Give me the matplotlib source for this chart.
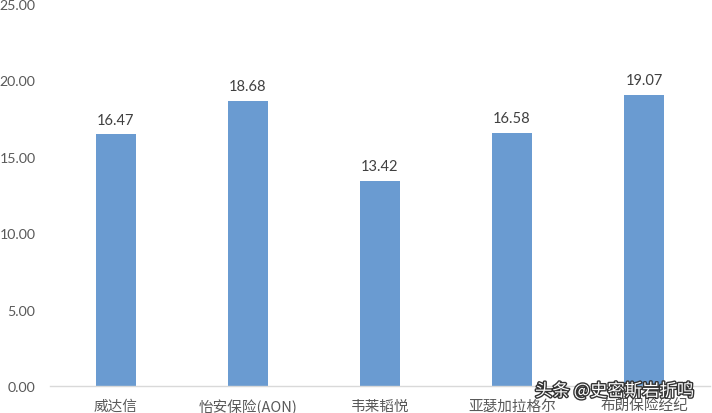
import matplotlib
matplotlib.use("Agg")
import matplotlib.pyplot as plt
import matplotlib.patheffects as pe

categories = ["威达信", "怡安保险(AON)", "韦莱韬悦", "亚瑟加拉格尔", "布朗保险经纪"]
values = [16.47, 18.68, 13.42, 16.58, 19.07]
yticks = [0, 5, 10, 15, 20, 25]

plt.rcParams['font.family'] = ['Noto Sans CJK SC', 'DejaVu Sans']
numfont = ['Lato', 'DejaVu Sans']

fig = plt.figure(figsize=(7.12, 4.14), dpi=100)
ax = fig.add_axes([50/712, 27/414, 660/712, 382/414])

x = list(range(len(categories)))
bars = ax.bar(x, values, width=0.31, color="#6A9BD1", zorder=2)
for xi, v in zip(x, values):
    ax.text(xi, v + 0.5, f"{v:.2f}", ha="center", va="bottom", fontsize=10.5,
            color="#404040", family=numfont)

ax.set_xlim(-0.5, len(categories) - 0.5)
ax.set_ylim(0, 25)
ax.set_yticks(yticks)
ax.set_yticklabels([f"{t:.2f}" for t in yticks], fontsize=10.2, color="#595959", family=numfont)
ax.set_xticks(x)
ax.set_xticklabels(categories, fontsize=10.5, color="#595959")
ax.tick_params(axis="both", length=0)
ax.tick_params(axis="y", pad=10.5)
ax.tick_params(axis="x", pad=9)
for s in ["top", "right", "left"]:
    ax.spines[s].set_visible(False)
ax.spines["bottom"].set_color("#D9D9D9")
ax.spines["bottom"].set_linewidth(1)

fig.text(535/712, 1 - 392/414, "头条 @史密斯岩折鸣", fontsize=12.5, color="white",
         ha="left", va="center",
         path_effects=[pe.withStroke(linewidth=2, foreground="#333333")])

fig.savefig("out.png", dpi=100)
